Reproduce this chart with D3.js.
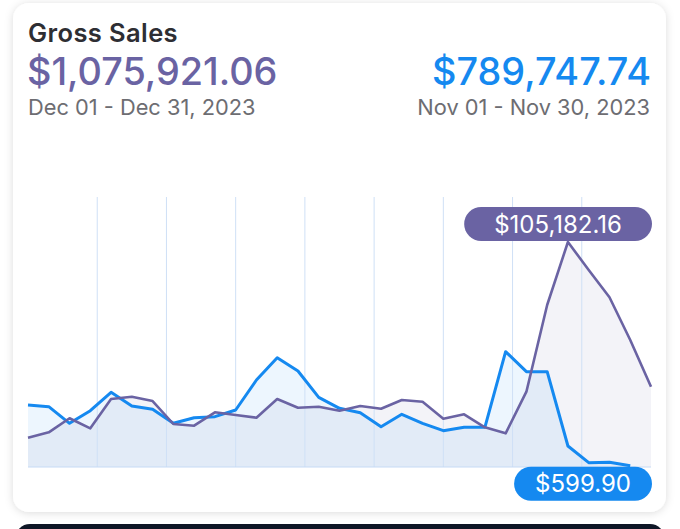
<!DOCTYPE html>
<html>
<head>
<meta charset="utf-8">
<script src="https://cdn.jsdelivr.net/npm/d3@7"></script>
<style>
  html, body { margin: 0; padding: 0; background: #ffffff; }
  svg { display: block; font-family: Inter, Roboto, "Noto Sans", sans-serif; }
</style>
</head>
<body>
<svg id="chart" width="680" height="529"></svg>
<script>
// ---- data ----
const title = "Gross Sales";
const currentTotal = "$1,075,921.06";
const currentRange = "Dec 01 - Dec 31, 2023";
const previousTotal = "$789,747.74";
const previousRange = "Nov 01 - Nov 30, 2023";

const decDays = [1,2,3,4,5,6,7,8,9,10,11,12,13,14,15,16,17,18,19,20,21,22,23,24,25,26,27,28,29,30,31];
const decSales = [13700,16220,22770,18090,31790,32860,30850,20100,19310,25570,24310,23050,31790,27720,28190,
                  26320,28520,27250,31320,30530,22580,24630,18540,15750,35200,75730,105182.16,92090,79330,59370,37540];
const novDays = [1,2,3,4,5,6,7,8,9,10,11,12,13,14,15,16,17,18,19,20,21,22,23,24,25,26,27,28,29,30];
const novSales = [28985,28190,20430,26320,34920,28520,26970,20430,23050,23520,26650,40670,51100,44880,32580,
                  27440,25380,18850,24630,20430,16980,18540,18540,53910,44570,44570,9820,2030,2190,599.90];
const gridIntervals = 9;

(function () {
// ---- styles ----
const purple = "#6a63a3";
const blue = "#1589f0";

const svg = d3.select("#chart");
const defs = svg.append("defs");
const f = defs.append("filter").attr("id", "shadow").attr("x", "-10%").attr("y", "-10%").attr("width", "120%").attr("height", "120%");
f.append("feDropShadow").attr("dx", 0).attr("dy", 1).attr("stdDeviation", 4).attr("flood-color", "#000").attr("flood-opacity", 0.14);

// bottom dark card
svg.append("rect").attr("x", 15).attr("y", 524).attr("width", 650).attr("height", 40).attr("rx", 15).attr("fill", "#0e1626");

// card
svg.append("rect").attr("x", 13).attr("y", 3).attr("width", 653).attr("height", 509).attr("rx", 16)
  .attr("fill", "#fff").attr("filter", "url(#shadow)");

// header texts
svg.append("text").attr("x", 28).attr("y", 42).attr("font-size", 25.5).attr("font-weight", 600)
  .attr("letter-spacing", 0.4).attr("fill", "#2e2e33").text(title);
svg.append("text").attr("x", 27).attr("y", 85).attr("font-size", 37.8).attr("font-weight", 500)
  .attr("fill", purple).text(currentTotal);
svg.append("text").attr("x", 28).attr("y", 115).attr("font-size", 21.8)
  .attr("fill", "#6d6d72").text(currentRange);
svg.append("text").attr("x", 651).attr("y", 85).attr("font-size", 37.8).attr("font-weight", 500)
  .attr("text-anchor", "end").attr("fill", blue).text(previousTotal);
svg.append("text").attr("x", 650).attr("y", 115).attr("font-size", 21.8)
  .attr("text-anchor", "end").attr("fill", "#6d6d72").text(previousRange);

// scales
const pLeft = 28, pRight = 651, pBottom = 467, pTop = 197;
const x = d3.scaleLinear().domain([decDays[0], decDays[decDays.length - 1]]).range([pLeft, pRight]);
const maxV = d3.max(decSales.concat(novSales));
const y = d3.scaleLinear().domain([0, maxV * 1.2]).range([pBottom, pTop]);
const gx = d3.scaleLinear().domain([0, gridIntervals]).range([pLeft, pRight]);

const dec = decDays.map((d, i) => ({ d, v: decSales[i] }));
const nov = novDays.map((d, i) => ({ d, v: novSales[i] }));

// areas
const area = d3.area().x(p => x(p.d)).y0(y(0)).y1(p => y(p.v));
const line = d3.line().x(p => x(p.d)).y(p => y(p.v));

svg.append("path").datum(dec).attr("d", area).attr("fill", purple).attr("fill-opacity", 0.08);
svg.append("path").datum(nov).attr("d", area).attr("fill", blue).attr("fill-opacity", 0.08);

// gridlines
svg.append("g").selectAll("line").data(d3.range(1, gridIntervals)).join("line")
  .attr("x1", d => gx(d)).attr("x2", d => gx(d))
  .attr("y1", pTop).attr("y2", pBottom)
  .attr("stroke", "#cfe0f6").attr("stroke-width", 1);

// baseline
svg.append("line").attr("x1", pLeft).attr("x2", pRight).attr("y1", y(0)).attr("y2", y(0))
  .attr("stroke", "#c6daf5").attr("stroke-width", 1);

// lines
svg.append("path").datum(nov).attr("d", line).attr("fill", "none").attr("stroke", blue)
  .attr("stroke-width", 3).attr("stroke-linejoin", "round");
svg.append("path").datum(dec).attr("d", line).attr("fill", "none").attr("stroke", purple)
  .attr("stroke-width", 2.6).attr("stroke-linejoin", "round");

// callouts
function pill(point, color, label, above, pad) {
  const g = svg.append("g");
  const t = g.append("text").attr("font-size", 24).attr("fill", "#fff").attr("text-anchor", "middle").text(label);
  const w = t.node().getComputedTextLength() + pad;
  const h = 34;
  let cx = x(point.d);
  cx = Math.min(cx, pRight + 1 - w / 2);
  const py = y(point.v);
  const y0 = above ? py - h - 1 : py + 1;
  g.insert("rect", "text").attr("x", cx - w / 2).attr("y", y0).attr("width", w).attr("height", h)
    .attr("rx", h / 2).attr("fill", color);
  t.attr("x", cx).attr("y", y0 + h / 2 + 8.5);
}
const decMax = dec.reduce((a, b) => (b.v > a.v ? b : a));
pill(decMax, purple, "$" + d3.format(",.2f")(decMax.v), true, 60);
const novLast = nov[nov.length - 1];
pill(novLast, blue, "$" + d3.format(",.2f")(novLast.v), false, 42);
})();
</script>
</body>
</html>
